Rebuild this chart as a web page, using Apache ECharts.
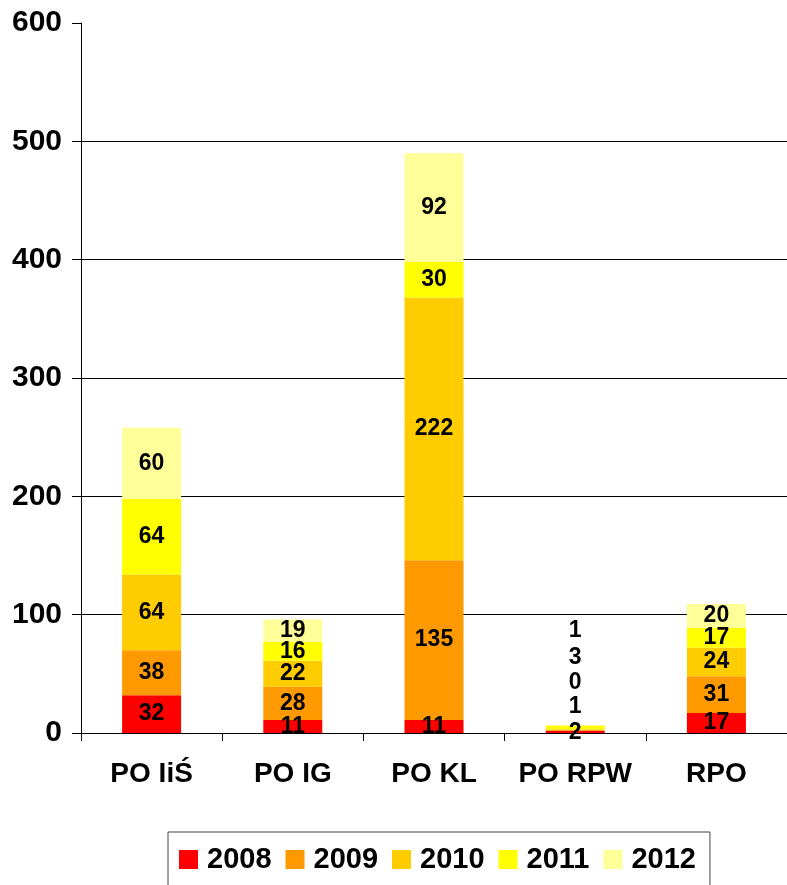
<!DOCTYPE html>
<html>
<head>
<meta charset="utf-8">
<script src="https://cdn.jsdelivr.net/npm/echarts@6/dist/echarts.min.js"></script>
<style>
  html, body { margin: 0; padding: 0; background: #fff; }
  #chart { width: 787px; height: 885px; }
</style>
</head>
<body>
<div id="chart"></div>
<script>
var categories = ['PO IiŚ', 'PO IG', 'PO KL', 'PO RPW', 'RPO'];
var years = ['2008', '2009', '2010', '2011', '2012'];
var v2008 = [32, 11, 11, 2, 17];
var v2009 = [38, 28, 135, 1, 31];
var v2010 = [64, 22, 222, 0, 24];
var v2011 = [64, 16, 30, 3, 17];
var v2012 = [60, 19, 92, 1, 20];
var yearColors = ['#ff0000', '#ff9900', '#ffcc00', '#ffff00', '#ffff99'];
// labels of the tiny PO RPW bar are pushed up like in excel
var rpwShift = [1, -23, -47, -70, -95];
var rpwIndex = categories.indexOf('PO RPW');

function makeSeries(idx, values) {
    return {
        name: years[idx],
        type: 'bar',
        stack: 'all',
        barWidth: 59,
        itemStyle: {color: yearColors[idx]},
        label: {
            show: true,
            position: 'inside',
            color: '#000',
            fontFamily: 'Liberation Sans',
            fontWeight: 'bold',
            fontSize: 23
        },
        labelLayout: function (p) {
            if (p.dataIndex === rpwIndex) {
                return {dy: rpwShift[p.seriesIndex]};
            }
            return {};
        },
        data: values
    };
}

var myChart = echarts.init(document.getElementById('chart'));
var option = {
    animation: false,
    textStyle: {fontFamily: 'Liberation Sans'},
    grid: {left: 81, right: -7, top: 23, bottom: 152},
    legend: {
        top: 832,
        left: 168,
        itemWidth: 19,
        itemHeight: 19,
        itemGap: 14,
        icon: 'rect',
        borderColor: '#444',
        borderWidth: 1,
        padding: [13, 14, 30, 11],
        textStyle: {fontSize: 29, fontWeight: 'bold', color: '#000', fontFamily: 'Liberation Sans', padding: [0, 0, 0, 4]},
        data: years
    },
    xAxis: {
        type: 'category',
        data: categories,
        axisLine: {lineStyle: {color: '#000', width: 1}},
        axisTick: {show: true, length: 8, lineStyle: {color: '#000'}},
        axisLabel: {interval: 0, fontSize: 28, fontWeight: 'bold', color: '#000', margin: 27, fontFamily: 'Liberation Sans'}
    },
    yAxis: {
        type: 'value',
        min: 0,
        max: 600,
        interval: 100,
        axisLine: {show: true, lineStyle: {color: '#000', width: 1}},
        axisTick: {show: true, length: 9, lineStyle: {color: '#000'}},
        axisLabel: {fontSize: 30, fontWeight: 'bold', color: '#000', margin: 19, fontFamily: 'Liberation Sans'},
        splitLine: {show: true, showMaxLine: false, lineStyle: {color: '#000', width: 1}}
    },
    series: [
        makeSeries(0, v2008),
        makeSeries(1, v2009),
        makeSeries(2, v2010),
        makeSeries(3, v2011),
        makeSeries(4, v2012)
    ]
};
myChart.setOption(option, true);
</script>
</body>
</html>
